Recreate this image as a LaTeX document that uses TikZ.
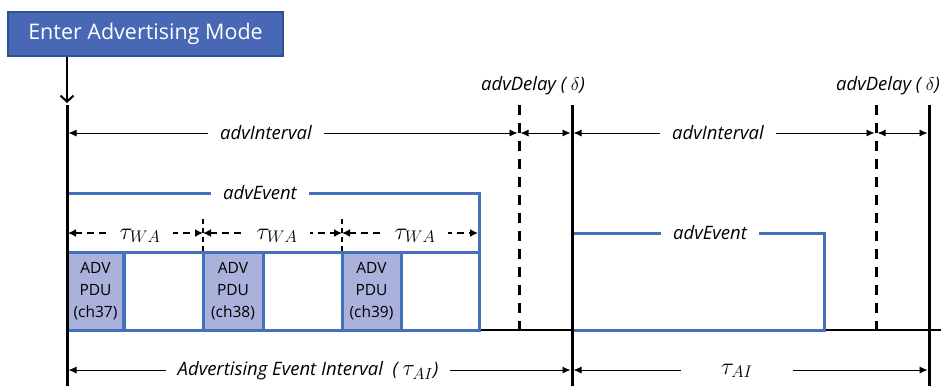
\documentclass[tikz,border=0pt]{standalone}
\usepackage{fix-cm}
\usepackage{fontspec}
\setmainfont{Open Sans}
\usetikzlibrary{arrows.meta}
\definecolor{modeblue}{RGB}{72,103,180}
\definecolor{modeedge}{RGB}{47,80,145}
\definecolor{evblue}{RGB}{68,112,190}
\definecolor{pdufill}{RGB}{170,178,220}
\begin{document}
\begin{tikzpicture}[x=1pt,y=-1pt,
  modebox/.style={fill=modeblue,draw=modeedge,line width=1.5pt,text=white,
    minimum width=275pt,minimum height=44pt,inner sep=0pt,font=\fontsize{21.5}{24}\selectfont},
  thickline/.style={line width=3pt,black},
  delayline/.style={line width=3pt,black,dash pattern=on 10pt off 8pt},
  dimarrow/.style={line width=0.9pt,{Latex[length=8pt,width=7pt]}-{Latex[length=8pt,width=7pt]}},
  wadim/.style={line width=2pt,dash pattern=on 7pt off 5pt,{Latex[length=8pt,width=8pt]}-{Latex[length=8pt,width=8pt]}},
  lbl/.style={font=\fontsize{18.5}{20}\selectfont\itshape,fill=white,inner xsep=12pt,inner ysep=1pt},
  mlbl/.style={font=\fontsize{24}{26}\selectfont,fill=white,inner xsep=13pt,inner ysep=1pt},
  toplbl/.style={font=\fontsize{18.5}{20}\selectfont\itshape,inner sep=0pt},
  evline/.style={line width=3pt,evblue},
  pdu/.style={fill=pdufill,draw=evblue,line width=3pt,minimum width=56pt,minimum height=78pt,
    inner sep=0pt,align=center,font=\fontsize{15.5}{22}\selectfont},
  slot/.style={draw=evblue,line width=3pt,minimum height=78pt,inner sep=0pt},
  tick/.style={line width=2pt,black,dash pattern=on 5pt off 4pt}]
\clip (0,0) rectangle (941,386);
\fill[white] (0,0) rectangle (941,386);
% mode box and entry arrow
\node[modebox] (mode) at (145.5,34) {Enter Advertising Mode};
\coordinate (entry) at (67,103);
\draw[line width=2pt,-{Straight Barb[length=6pt,width=13pt]}] (mode.south -| entry) -- (entry);
% baseline
\coordinate (base0) at (67,330);
\coordinate (base1) at (941,330);
\draw[line width=2pt] (base0) -- (base1);
% first advEvent
\draw[evline] (67,193) -- (479,193) -- (479,330) -- (67,330);
\draw[evline] (67,252) -- (479,252);
\node[pdu] (p1) at (95.5,291) {ADV\\PDU\\(ch37)};
\node[slot,minimum width=79pt] (s1) at (163.5,291) {};
\node[pdu,minimum width=60pt] (p2) at (233,291) {ADV\\PDU\\(ch38)};
\node[slot,minimum width=79pt] (s2) at (302.5,291) {};
\node[pdu,minimum width=59pt] (p3) at (371.5,291) {ADV\\PDU\\(ch39)};
\node[slot,minimum width=78pt] (s3) at (440,291) {};
\node[lbl] (ev1) at (260,193) {advEvent};
% second advEvent
\draw[evline] (572,233) -- (824,233) -- (824,330) -- (572,330);
\node[lbl] (ev2) at (710,233) {advEvent};
% tau_WA
\coordinate (w0) at (68,233);
\coordinate (w1) at (203,233);
\coordinate (w2) at (342,233);
\coordinate (w3) at (478,233);
\coordinate (t1a) at (203,219);
\coordinate (t1b) at (203,252);
\coordinate (t2a) at (342,219);
\coordinate (t2b) at (342,252);
\draw[tick] (t1a) -- (t1b);
\draw[tick] (t2a) -- (t2b);
\draw[wadim] (w0) -- (w1);
\draw[wadim] (w1) -- (w2);
\draw[wadim] (w2) -- (w3);
\node[mlbl] (wa1) at (140,236) {$\tau_{WA}$};
\node[mlbl] (wa2) at (277,236) {$\tau_{WA}$};
\node[mlbl] (wa3) at (415,236) {$\tau_{WA}$};
% vertical lines
\coordinate (A0) at (67,105);  \coordinate (A0b) at (67,386);
\coordinate (D1) at (519,105); \coordinate (D1b) at (519,330);
\coordinate (A1) at (572,105); \coordinate (A1b) at (572,386);
\coordinate (D2) at (876,105); \coordinate (D2b) at (876,330);
\coordinate (A2) at (929,105); \coordinate (A2b) at (929,386);
\draw[thickline] (A0) -- (A0b);
\draw[thickline] (A1) -- (A1b);
\draw[thickline] (A2) -- (A2b);
\draw[delayline] (D1) -- (D1b);
\draw[delayline] (D2) -- (D2b);
% advInterval / advDelay arrows
\coordinate (i0) at (68.5,133);
\coordinate (i1) at (517.5,133);
\coordinate (i1r) at (520.5,133);
\coordinate (i2) at (570.5,133);
\coordinate (i2r) at (573.5,133);
\coordinate (i3) at (874.5,133);
\coordinate (i3r) at (877.5,133);
\coordinate (i4) at (927.5,133);
\draw[dimarrow] (i0) -- (i1);
\draw[dimarrow] (i1r) -- (i2);
\draw[dimarrow] (i2r) -- (i3);
\draw[dimarrow] (i3r) -- (i4);
\node[lbl] (ai1) at (266,133) {advInterval};
\node[lbl] (ai2) at (718,133) {advInterval};
\node[toplbl] (ad1) at (533,86) {advDelay ( $\delta$)};
\node[toplbl,anchor=west] (ad2) at (836,86) {advDelay ( $\delta$)};
% bottom arrows
\coordinate (b0) at (68.5,370);
\coordinate (b1) at (570.5,370);
\coordinate (b1r) at (573.5,370);
\coordinate (b2) at (927.5,370);
\draw[dimarrow] (b0) -- (b1);
\draw[dimarrow] (b1r) -- (b2);
\node[lbl] (aei) at (308,371) {Advertising Event Interval \ ( {\fontsize{23}{24}\selectfont$\tau_{AI}$})};
\node[mlbl,inner xsep=40pt] (tai) at (737,371) {$\tau_{AI}$};
\end{tikzpicture}
\end{document}
